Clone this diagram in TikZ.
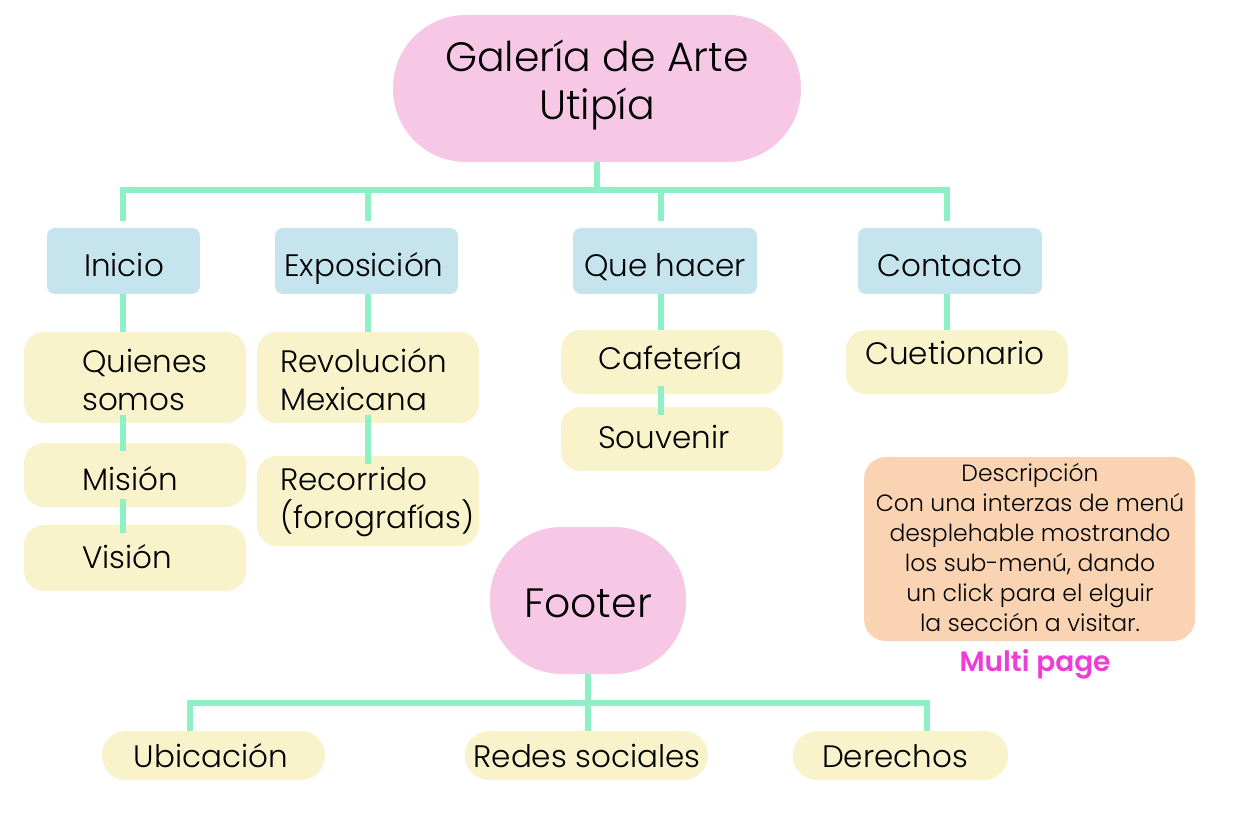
\documentclass[tikz,border=0pt]{standalone}
\usepackage{fontspec}
\setmainfont{Poppins}[UprightFont={* Light},BoldFont={* SemiBold}]
\definecolor{pinkc}{RGB}{247,200,230}
\definecolor{bluec}{RGB}{197,228,238}
\definecolor{yelc}{RGB}{248,243,202}
\definecolor{orac}{RGB}{249,211,178}
\definecolor{mint}{RGB}{143,240,198}
\definecolor{magc}{RGB}{238,60,214}
\begin{document}
\begin{tikzpicture}[x=1pt,y=-1pt,
  box/.style={draw=none,inner sep=0pt,outer sep=0pt},
  titlebox/.style={box,fill=pinkc},
  bluebox/.style={box,fill=bluec,minimum height=66pt,rounded corners=8pt},
  ybox/.style={box,fill=yelc,minimum width=222pt,rounded corners=20pt},
  pill/.style={box,fill=yelc,minimum height=49pt,rounded corners=24pt},
  txt/.style={inner sep=0pt,font=\fontsize{31}{38}\selectfont},
  bigtxt/.style={inner sep=0pt,font=\fontsize{41}{48}\selectfont},
  link/.style={draw=mint,line width=6pt}]
\useasboundingbox (0,0) rectangle (1235,821);
\fill[white] (0,0) rectangle (1235,821);

% ---- connector coordinates ----
\coordinate (hub) at (597,190);
\coordinate (c1) at (123,190);
\coordinate (c2) at (368,190);
\coordinate (c3) at (661,190);
\coordinate (c4) at (947,190);
\coordinate (d1) at (123,221);
\coordinate (d2) at (368,221);
\coordinate (d3) at (661,221);
\coordinate (d4) at (947,221);

% ---- boxes ----
\node[titlebox,minimum width=408pt,minimum height=147pt,rounded corners=73pt] (title) at (597,88.5) {};
\node[bluebox,minimum width=153pt] (inicio) at (123.5,261) {};
\node[bluebox,minimum width=183pt] (expo) at (366.5,261) {};
\node[bluebox,minimum width=184pt] (quehacer) at (665,261) {};
\node[bluebox,minimum width=184pt] (contacto) at (950,261) {};

\draw[link] (title.south) -- (hub);
\draw[link] (d1) -- (c1) -- (c4) -- (d4);
\draw[link] (c2) -- (d2);
\draw[link] (c3) -- (d3);

\node[ybox,minimum height=91pt] (quienes) at (135,377.5) {};
\node[ybox,minimum height=64pt] (mision) at (135,475) {};
\node[ybox,minimum height=66pt] (vision) at (135,558) {};
\node[ybox,minimum height=91pt] (revol) at (368,377.5) {};
\node[ybox,minimum height=90pt] (recorr) at (368,501) {};
\node[ybox,minimum height=64pt] (cafe) at (672,362) {};
\node[ybox,minimum height=64pt] (souv) at (672,439) {};
\node[ybox,minimum height=64pt] (cuet) at (957,362) {};

\draw[link] (inicio.south -| d1) -- (quienes.north -| d1);
\draw[link] (expo.south -| d2) -- (revol.north -| d2);
\draw[link] (quehacer.south -| d3) -- (cafe.north -| d3);
\draw[link] (contacto.south -| d4) -- (cuet.north -| d4);
\draw[link,shorten <=-8pt,shorten >=-8pt] (quienes.south -| d1) -- (mision.north -| d1);
\draw[link,shorten <=-8pt,shorten >=-8pt] (mision.south -| d1) -- (vision.north -| d1);
\draw[link,shorten <=-8pt,shorten >=-8pt] (revol.south -| d2) -- (recorr.north -| d2);
\draw[link,shorten <=-8pt,shorten >=-8pt] (cafe.south -| d3) -- (souv.north -| d3);

\node[box,fill=orac,minimum width=331pt,minimum height=184pt,rounded corners=22pt] (desc) at (1029.5,549) {};

% footer
\node[titlebox,minimum width=196pt,minimum height=147pt,rounded corners=72pt] (footer) at (588,600.5) {};
\node[pill,minimum width=223pt] (ubic) at (213.5,755.5) {};
\node[pill,minimum width=243pt] (redes) at (586.5,755.5) {};
\node[pill,minimum width=215pt] (dere) at (900.5,755.5) {};
\coordinate (fhub) at (588,703);
\coordinate (f1) at (190,703);
\coordinate (f3) at (927,703);
\draw[link] (footer.south) -- (fhub);
\draw[link] (ubic.north -| f1) -- (f1) -- (f3) -- (dere.north -| f3);
\draw[link] (fhub) -- (redes.north -| fhub);

% ---- texts ----
\node[bigtxt,anchor=base] (t-title1) at (597,72) {Galería de Arte};
\node[bigtxt,anchor=base] (t-title2) at (597,120) {Utipía};
\node[txt,anchor=base] (t-inicio) at (124,277) {Inicio};
\node[txt,anchor=base] (t-expo) at (364,277) {Exposición};
\node[txt,anchor=base] (t-quehacer) at (665,277) {Que hacer};
\node[txt,anchor=base] (t-contacto) at (950,277) {Contacto};
\node[txt,anchor=base west] (t-quienes1) at (82,372) {Quienes};
\node[txt,anchor=base west] (t-quienes2) at (82,410) {somos};
\node[txt,anchor=base west] (t-mision) at (82,490) {Misión};
\node[txt,anchor=base west] (t-vision) at (82,568) {Visión};
\node[txt,anchor=base west] (t-revol1) at (280,372) {Revolución};
\node[txt,anchor=base west] (t-revol2) at (280,410) {Mexicana};
\node[txt,anchor=base west] (t-recorr1) at (280,490) {Recorrido};
\node[txt,anchor=base west] (t-recorr2) at (280,528) {(forografías)};
\node[txt,anchor=base west] (t-cafe) at (598,369) {Cafetería};
\node[txt,anchor=base west] (t-souv) at (598,448) {Souvenir};
\node[txt,anchor=base west] (t-cuet) at (865,364) {Cuetionario};
\node[inner sep=0pt,align=center,font=\fontsize{23.5}{30}\selectfont] (t-desc) at (1030,547)
  {Descripción\\Con una interzas de menú\\desplehable mostrando\\los sub-menú, dando\\un click para el elguir\\la sección a visitar.};
\node[inner sep=0pt,font=\bfseries\fontsize{28}{32}\selectfont,text=magc] (t-multi) at (1035,664) {Multi page};
\node[bigtxt,anchor=base] (t-footer) at (588,617) {Footer};
\node[txt,anchor=base] (t-ubic) at (211,767) {Ubicación};
\node[txt,anchor=base] (t-redes) at (587,767) {Redes sociales};
\node[txt,anchor=base] (t-dere) at (895,767) {Derechos};
\end{tikzpicture}
\end{document}
